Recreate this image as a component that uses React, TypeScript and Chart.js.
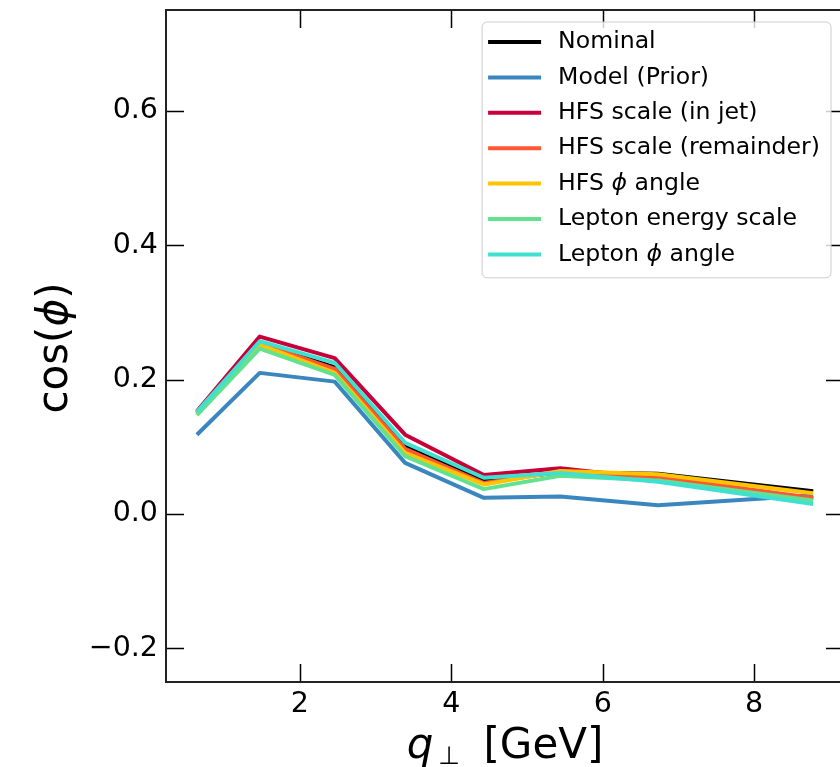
import React, { useEffect, useRef } from 'react';
import { Chart, registerables } from 'chart.js';
Chart.register(...registerables);

// ---- data ----
const qPerp = [0.64, 1.47, 2.46, 3.39, 4.43, 5.44, 6.73, 8.78];
const nominal = [0.150, 0.255, 0.218, 0.100, 0.049, 0.062, 0.060, 0.034];
const modelPrior = [0.118, 0.210, 0.197, 0.076, 0.024, 0.026, 0.013, 0.028];
const hfsScaleInJet = [0.153, 0.264, 0.232, 0.118, 0.058, 0.068, 0.052, 0.022];
const hfsScaleRemainder = [0.151, 0.254, 0.216, 0.097, 0.046, 0.063, 0.055, 0.024];
const hfsPhiAngle = [0.150, 0.252, 0.210, 0.091, 0.044, 0.064, 0.059, 0.031];
const leptonEnergyScale = [0.147, 0.246, 0.207, 0.086, 0.037, 0.057, 0.050, 0.020];
const leptonPhiAngle = [0.152, 0.257, 0.225, 0.106, 0.054, 0.061, 0.048, 0.015];

const seriesLabels = [
  'Nominal',
  'Model (Prior)',
  'HFS scale (in jet)',
  'HFS scale (remainder)',
  'HFS ϕ angle',
  'Lepton energy scale',
  'Lepton ϕ angle',
];
const seriesColors = ['#000000', '#3A87C0', '#C70039', '#FF5733', '#FFC300', '#62E28E', '#40E0D0'];
const seriesValues = [nominal, modelPrior, hfsScaleInJet, hfsScaleRemainder, hfsPhiAngle, leptonEnergyScale, leptonPhiAngle];

const xTicks = [2, 4, 6, 8];
const yTicks = [-0.2, 0.0, 0.2, 0.4, 0.6];
const xRange = [0.232, 9.187];
const yRange = [-0.25, 0.75];

const FONT = "'DejaVu Sans', sans-serif";

type Part = { t: string; italic?: boolean };
function splitPhi(s: string): Part[] {
  const parts: Part[] = [];
  s.split(/(ϕ)/).forEach((p) => {
    if (!p) return;
    parts.push({ t: p, italic: p === 'ϕ' });
  });
  return parts;
}
function richWidth(ctx: CanvasRenderingContext2D, parts: Part[], size: number) {
  let w = 0;
  parts.forEach((p) => {
    ctx.font = `${p.italic ? 'italic ' : ''}${size}px ${FONT}`;
    w += ctx.measureText(p.t).width;
  });
  return w;
}
function drawRich(ctx: CanvasRenderingContext2D, parts: Part[], x: number, y: number, size: number) {
  let cx = x;
  parts.forEach((p) => {
    ctx.font = `${p.italic ? 'italic ' : ''}${size}px ${FONT}`;
    ctx.fillText(p.t, cx, y);
    cx += ctx.measureText(p.t).width;
  });
}

const decorations = {
  id: 'decorations',
  afterDraw(chart: any) {
    const { ctx, chartArea: a, scales } = chart;
    const xs = scales.x;
    const ys = scales.y;
    const TL = 18;
    ctx.save();
    // inward ticks on all four sides
    ctx.strokeStyle = '#000';
    ctx.lineWidth = 1.5;
    ctx.beginPath();
    xTicks.forEach((v) => {
      const px = Math.round(xs.getPixelForValue(v)) + 0.5;
      ctx.moveTo(px, a.bottom);
      ctx.lineTo(px, a.bottom - TL);
      ctx.moveTo(px, a.top);
      ctx.lineTo(px, a.top + TL);
    });
    yTicks.forEach((v) => {
      const py = Math.round(ys.getPixelForValue(v)) + 0.5;
      ctx.moveTo(a.left, py);
      ctx.lineTo(a.left + TL, py);
      ctx.moveTo(a.right, py);
      ctx.lineTo(a.right - TL, py);
    });
    ctx.stroke();
    // frame
    ctx.strokeStyle = '#222';
    ctx.lineWidth = 2;
    ctx.strokeRect(a.left, a.top, a.right - a.left, a.bottom - a.top);

    // legend
    const LS = 23.6;
    const partsList = chart.data.datasets.map((d: any) => splitPhi(d.label));
    const maxW = Math.max(...partsList.map((p: Part[]) => richWidth(ctx, p, LS)));
    const boxRight = a.right - 13;
    const boxLeft = boxRight - (76 + maxW + 11);
    const boxTop = a.top + 12;
    const rowH = 35.4;
    const boxH = rowH * partsList.length + 8;
    ctx.beginPath();
    ctx.roundRect(boxLeft, boxTop, boxRight - boxLeft, boxH, 5);
    ctx.fillStyle = 'rgba(255,255,255,0.8)';
    ctx.fill();
    ctx.strokeStyle = '#cccccc';
    ctx.lineWidth = 1;
    ctx.stroke();
    chart.data.datasets.forEach((d: any, i: number) => {
      const cy = boxTop + 20 + i * rowH;
      ctx.beginPath();
      ctx.strokeStyle = d.borderColor;
      ctx.lineWidth = 4;
      ctx.moveTo(boxLeft + 6, cy);
      ctx.lineTo(boxLeft + 59, cy);
      ctx.stroke();
      ctx.fillStyle = '#000';
      ctx.textBaseline = 'middle';
      ctx.textAlign = 'left';
      drawRich(ctx, partsList[i], boxLeft + 76, cy, LS);
    });

    // x-axis title: q_⊥ [GeV]
    const TS = 42;
    const SS = 25;
    ctx.fillStyle = '#000';
    ctx.textBaseline = 'alphabetic';
    ctx.textAlign = 'left';
    ctx.font = `italic ${TS}px ${FONT}`;
    const wq = ctx.measureText('q').width;
    ctx.font = `${SS}px ${FONT}`;
    const wp = ctx.measureText('⊥').width;
    ctx.font = `${TS}px ${FONT}`;
    const wr = ctx.measureText(' [GeV]').width;
    const gap = 5;
    const gap2 = 10;
    const total = wq + gap + wp + gap2 + wr;
    let tx = (a.left + a.right) / 2 - total / 2;
    const base = 758;
    ctx.font = `italic ${TS}px ${FONT}`;
    ctx.fillText('q', tx, base);
    tx += wq + gap;
    ctx.font = `${SS}px ${FONT}`;
    ctx.fillText('⊥', tx, base + 6);
    tx += wp + gap2;
    ctx.font = `${TS}px ${FONT}`;
    ctx.fillText(' [GeV]', tx, base);

    // y-axis title: cos(ϕ)
    const yParts: Part[] = [{ t: 'cos(' }, { t: 'ϕ', italic: true }, { t: ')' }];
    const wy = richWidth(ctx, yParts, TS);
    ctx.translate(67, (a.top + a.bottom) / 2 + 2);
    ctx.rotate(-Math.PI / 2);
    ctx.textBaseline = 'alphabetic';
    drawRich(ctx, yParts, -wy / 2, 0, TS);
    ctx.restore();
  },
};

export default function App() {
  const ref = useRef<HTMLCanvasElement>(null);
  useEffect(() => {
    document.body.style.margin = '0';
    const canvas = ref.current;
    if (!canvas) return;
    const n = seriesValues.length;
    const chart = new Chart(canvas, {
      type: 'line',
      data: {
        datasets: seriesValues.map((vals, i) => ({
          label: seriesLabels[i],
          data: qPerp.map((q, j) => ({ x: q, y: vals[j] })),
          borderColor: seriesColors[i],
          backgroundColor: seriesColors[i],
          borderWidth: 4,
          pointRadius: 0,
          tension: 0,
          fill: false,
          borderJoinStyle: 'round' as const,
          order: n - i,
        })),
      },
      options: {
        animation: false,
        responsive: false,
        maintainAspectRatio: false,
        layout: { padding: { top: 10, right: 6, left: 0, bottom: 0 } },
        plugins: { legend: { display: false }, tooltip: { enabled: false } },
        scales: {
          x: {
            type: 'linear',
            min: xRange[0],
            max: xRange[1],
            afterBuildTicks: (s: any) => {
              s.ticks = xTicks.map((v) => ({ value: v }));
            },
            afterFit: (s: any) => {
              s.height = 85;
              s.paddingLeft = 0;
              s.paddingRight = 0;
            },
            grid: { display: false, drawTicks: false },
            border: { display: false },
            ticks: {
              color: '#000',
              font: { family: FONT, size: 28.5 },
              padding: 5,
              maxRotation: 0,
              autoSkip: false,
              callback: (v: any) => String(v),
            },
          },
          y: {
            type: 'linear',
            min: yRange[0],
            max: yRange[1],
            afterBuildTicks: (s: any) => {
              s.ticks = yTicks.map((v) => ({ value: v }));
            },
            afterFit: (s: any) => {
              s.width = 166;
              s.paddingTop = 0;
              s.paddingBottom = 0;
            },
            grid: { display: false, drawTicks: false },
            border: { display: false },
            ticks: {
              color: '#000',
              font: { family: FONT, size: 28.5 },
              padding: 8,
              autoSkip: false,
              callback: (v: any) => (v < 0 ? '−' : '') + Math.abs(Number(v)).toFixed(1),
            },
          },
        },
      },
      plugins: [decorations],
    });
    return () => chart.destroy();
  }, []);
  return (
    <div style={{ width: 840, height: 767, overflow: 'hidden', background: '#fff' }}>
      <canvas ref={ref} width={850} height={767} style={{ width: 850, height: 767, display: 'block' }} />
    </div>
  );
}
